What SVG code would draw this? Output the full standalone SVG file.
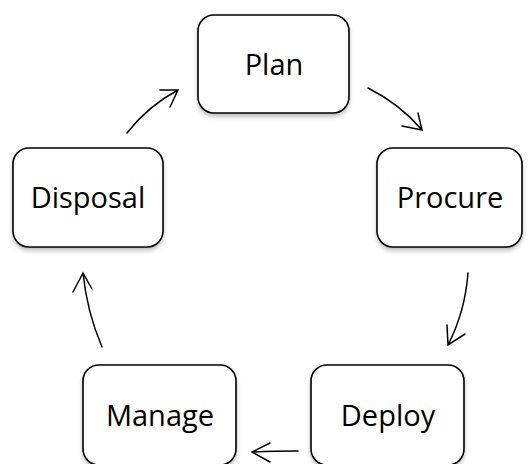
<svg xmlns="http://www.w3.org/2000/svg" width="530" height="464" viewBox="0 0 530 464">
<style>
.box{fill:#fff;stroke:#000;stroke-width:1.6;filter:url(#sh)}
.lbl{font-family:"Open Sans","Liberation Sans",sans-serif;font-size:29px;fill:#000;text-anchor:middle}
.con{fill:none;stroke:#000;stroke-width:1.5;stroke-linecap:round}
</style>
<defs>
<filter id="sh" x="-10%" y="-10%" width="120%" height="130%">
<feDropShadow dx="0" dy="3" stdDeviation="2" flood-color="#000" flood-opacity="0.25"/>
</filter>
</defs>
<rect width="530" height="464" fill="#fff"/>
<g id="connectors">
<path class="con" d="M368,88 Q400,104 422,130 M402,126 L422,130 L418,113"/>
<path class="con" d="M468,273 Q465,312 448,345 M447,325 L448,345 L465,334"/>
<path class="con" d="M298,451 Q272,451 252,452 M270,443 L252,452 L270,462"/>
<path class="con" d="M102,347 Q87,312 83,273 M73,292 L83,273 L92,289"/>
<path class="con" d="M127,133 Q148,106 178,90 M160,90 L178,90 L170,107"/>
</g>
<g id="plan"><rect class="box" x="198" y="15" width="151" height="98" rx="16"/><text class="lbl" x="274" y="75">Plan</text></g>
<g id="procure"><rect class="box" x="377" y="148" width="145" height="99" rx="16"/><text class="lbl" x="450" y="208">Procure</text></g>
<g id="deploy"><rect class="box" x="311" y="365" width="153" height="100" rx="16"/><text class="lbl" x="388" y="426">Deploy</text></g>
<g id="manage"><rect class="box" x="83" y="365" width="153" height="100" rx="16"/><text class="lbl" x="160" y="426">Manage</text></g>
<g id="disposal"><rect class="box" x="13" y="148" width="150" height="99" rx="16"/><text class="lbl" x="88" y="208">Disposal</text></g>
</svg>
